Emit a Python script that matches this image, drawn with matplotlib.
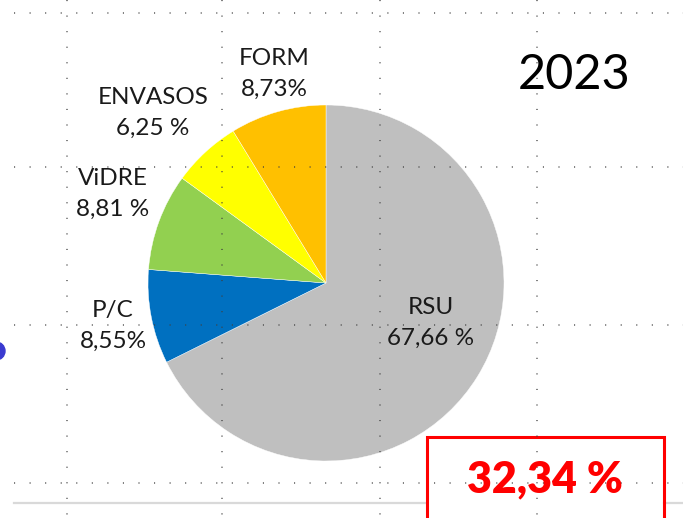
import matplotlib
matplotlib.use("Agg")
import matplotlib.pyplot as plt
from matplotlib.lines import Line2D
from matplotlib.patches import Rectangle, Ellipse

plt.rcParams['font.family'] = ['Lato', 'DejaVu Sans']
plt.rcParams['lines.scale_dashes'] = False

# Data
categories = ["RSU", "P/C", "ViDRE", "ENVASOS", "FORM"]
values = [67.66, 8.55, 8.81, 6.25, 8.73]
label_texts = ["RSU\n67,66 %", "P/C\n8,55%", "ViDRE\n8,81 %", "ENVASOS\n6,25 %", "FORM\n8,73%"]
colors = ["#BFBFBF", "#0070C0", "#92D050", "#FFFF00", "#FFC000"]
year = "2023"
recycled_text = "32,34 %"

W, H = 683, 518
fig = plt.figure(figsize=(W / 100, H / 100), dpi=100)
fig.patch.set_facecolor("white")


def fx(x):
    return x / W


def fy(y):
    return 1 - y / H


# Pie axes
cx, cy, r = 326, 283, 178
ax = fig.add_axes([fx(cx - r), fy(cy + r), 2 * r / W, 2 * r / H])
ax.pie(values, colors=colors, startangle=90, counterclock=False,
       wedgeprops=dict(edgecolor="white", linewidth=0.3))
ax.set_xlim(-1, 1)
ax.set_ylim(-1, 1)
ax.set_aspect("equal")
ax.axis("off")

# Spreadsheet dotted grid (drawn over the chart)
dot = dict(color="#404040", linewidth=1.1, linestyle=(0, (0.8, 10.4)),
           solid_capstyle="butt", dash_capstyle="butt", transform=fig.transFigure, zorder=5, alpha=0.85)
for yy in [13, 167, 325, 483]:
    fig.add_artist(Line2D([fx(14), fx(W)], [fy(yy), fy(yy)], **dot))
for xx in [67, 222, 380, 537]:
    fig.add_artist(Line2D([fx(xx), fx(xx)], [fy(0), fy(H)], **dot))

# light gray rule near the bottom (interrupted by the red box)
for x0, x1 in [(14, 427), (664, W)]:
    fig.add_artist(Line2D([fx(x0), fx(x1)], [fy(503), fy(503)], color="#D9D9D9",
                          linewidth=1.6, transform=fig.transFigure, zorder=4))

# Labels
label_pos = {
    "RSU": (431, 323),
    "P/C": (113, 326),
    "ViDRE": (113, 194),
    "ENVASOS": (153, 113),
    "FORM": (274, 74),
}
for cat, txt in zip(categories, label_texts):
    x, y = label_pos[cat]
    fig.text(fx(x), fy(y), txt, ha="center", va="center", fontsize=17.5,
             color="#1a1a1a", linespacing=1.55, zorder=6)

# Year
fig.text(fx(574), fy(75), year, ha="center", va="center", fontsize=35, color="black")

# Red box with total
fig.add_artist(Rectangle((fx(427), fy(530)), fx(664) - fx(427), fy(437) - fy(530),
                         fill=False, edgecolor="#FF0000", linewidth=2.2,
                         transform=fig.transFigure, zorder=4.5))
fig.text(fx(545), fy(479), recycled_text, ha="center", va="center", fontsize=31,
         fontweight="heavy", color="#FF0000", zorder=7)

# blue fragment at left edge
fig.add_artist(Ellipse((fx(-4), fy(351)), 18 / W, 18 / H, color="#3A3AD0",
                       transform=fig.transFigure, zorder=6))

fig.savefig("out.png", dpi=100)
